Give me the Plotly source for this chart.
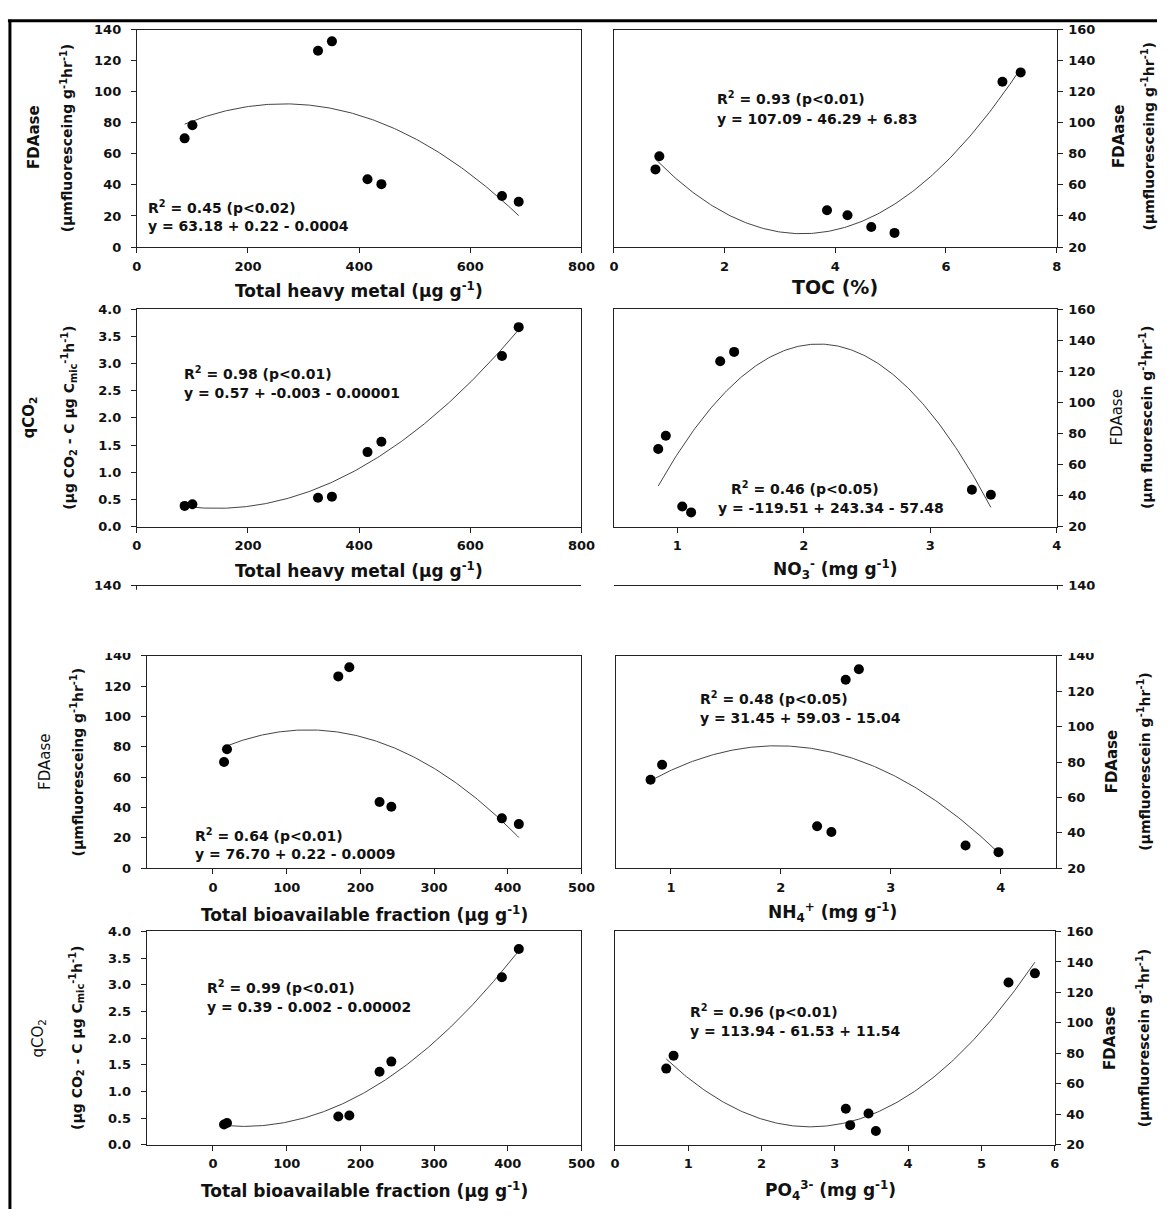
import numpy as np
import plotly.graph_objects as go

# ---------------- data ----------------
fdaase = [70.0, 78.5, 126.5, 132.5, 43.7, 40.5, 32.9, 29.1]
qco2 = [0.38, 0.41, 0.53, 0.55, 1.37, 1.56, 3.14, 3.67]
total_heavy_metal = [86, 100, 326, 351, 415, 440, 657, 687]
toc = [0.75, 0.82, 7.02, 7.35, 3.85, 4.22, 4.65, 5.07]
no3 = [0.85, 0.91, 1.34, 1.45, 3.33, 3.48, 1.04, 1.11]
bioavailable = [15, 19, 170, 185, 226, 242, 392, 415]
nh4 = [0.815, 0.92, 2.59, 2.71, 2.33, 2.46, 3.68, 3.98]
po4 = [0.70, 0.80, 5.37, 5.73, 3.15, 3.46, 3.21, 3.56]

r2_labels = ["R<sup>2</sup> = 0.45 (p<0.02)", "R<sup>2</sup> = 0.93 (p<0.01)",
             "R<sup>2</sup> = 0.98 (p<0.01)", "R<sup>2</sup> = 0.46 (p<0.05)",
             "R<sup>2</sup> = 0.64 (p<0.01)", "R<sup>2</sup> = 0.48 (p<0.05)",
             "R<sup>2</sup> = 0.99 (p<0.01)", "R<sup>2</sup> = 0.96 (p<0.01)"]
eq_labels = ["y = 63.18 + 0.22 - 0.0004", "y = 107.09 - 46.29 + 6.83",
             "y = 0.57 + -0.003 - 0.00001", "y = -119.51 + 243.34 - 57.48",
             "y = 76.70 + 0.22 - 0.0009", "y = 31.45 + 59.03 - 15.04",
             "y = 0.39 - 0.002 - 0.00002", "y = 113.94 - 61.53 + 11.54"]

FDA_T = "(µmfluoresceing g<sup>-1</sup>hr<sup>-1</sup>)"
FDA_T2 = "(µmfluorescein g<sup>-1</sup>hr<sup>-1</sup>)"
QCO_T = "(µg CO<sub>2</sub> - C µg C<sub>mic</sub><sup>-1</sup>h<sup>-1</sup>)"
THM_T = "Total heavy metal (µg g<sup>-1</sup>)"
BIO_T = "Total bioavailable fraction (µg g<sup>-1</sup>)"

W, H = 1171, 1217
def fx(p): return p / W
def fy(p): return 1 - p / H

FONT = "DejaVu Sans, Verdana, sans-serif"
TXT = "#111"

panels = [
    dict(x=total_heavy_metal, y=fdaase, box=(134, 586, 23, 243), xr=[0, 800], xt=[0, 200, 400, 600, 800],
         yr=[0, 140], yt=list(range(0, 141, 20)), side="left", fmt=None,
         r2=(143, 202), eq=(143, 222), xtitle=(THM_T, 360, 287, 17),
         ytitle=("FDAase", FDA_T, 30, 63, 132, True)),
    dict(x=toc, y=fdaase, box=(619, 1069, 23, 243), xr=[0, 8], xt=[0, 2, 4, 6, 8],
         yr=[20, 160], yt=list(range(20, 161, 20)), side="right", fmt=None,
         r2=(722, 92), eq=(722, 113), xtitle=("TOC (%)", 844, 284, 19),
         ytitle=("FDAase", FDA_T, 1133, 1162, 131, True)),
    dict(x=total_heavy_metal, y=qco2, box=(134, 586, 306, 526), xr=[0, 800], xt=[0, 200, 400, 600, 800],
         yr=[0, 4], yt=[0, 0.5, 1, 1.5, 2, 2.5, 3, 3.5, 4], side="left", fmt=".1f",
         r2=(180, 371), eq=(180, 391), xtitle=(THM_T, 360, 570, 17),
         ytitle=("qCO<sub>2</sub>", QCO_T, 25, 65, 416, True)),
    dict(x=no3, y=fdaase, box=(619, 1069, 306, 526), xr=[0.5, 4], xt=[1, 2, 3, 4],
         yr=[20, 160], yt=list(range(20, 161, 20)), side="right", fmt=None,
         r2=(736, 487), eq=(723, 507), xtitle=("NO<sub>3</sub><sup>-</sup> (mg g<sup>-1</sup>)", 844, 570, 17),
         ytitle=("FDAase", "(µm fluorescein g<sup>-1</sup>hr<sup>-1</sup>)", 1130, 1160, 416, False)),
    dict(x=bioavailable, y=fdaase, box=(144, 586, 657, 872), xr=[-90, 500], xt=[0, 100, 200, 300, 400, 500],
         yr=[0, 140], yt=list(range(0, 141, 20)), side="left", fmt=None,
         r2=(191, 838), eq=(191, 858), xtitle=(BIO_T, 365, 918, 17),
         ytitle=("FDAase", FDA_T, 40, 73, 764, False)),
    dict(x=nh4, y=fdaase, box=(621, 1068, 657, 872), xr=[0.5, 4.5], xt=[1, 2, 3, 4],
         yr=[20, 140], yt=list(range(20, 141, 20)), side="right", fmt=None,
         r2=(704, 700), eq=(704, 720), xtitle=("NH<sub>4</sub><sup>+</sup> (mg g<sup>-1</sup>)", 841, 917, 17),
         ytitle=("FDAase", FDA_T2, 1125, 1157, 764, True)),
    dict(x=bioavailable, y=qco2, box=(144, 586, 936, 1152), xr=[-90, 500], xt=[0, 100, 200, 300, 400, 500],
         yr=[0, 4], yt=[0, 0.5, 1, 1.5, 2, 2.5, 3, 3.5, 4], side="left", fmt=".1f",
         r2=(203, 992), eq=(203, 1012), xtitle=(BIO_T, 365, 1198, 17),
         ytitle=("qCO<sub>2</sub>", QCO_T, 34, 73, 1044, False)),
    dict(x=po4, y=fdaase, box=(620, 1067, 936, 1152), xr=[0, 6], xt=[0, 1, 2, 3, 4, 5, 6],
         yr=[20, 160], yt=list(range(20, 161, 20)), side="right", fmt=None,
         r2=(694, 1017), eq=(694, 1037), xtitle=("PO<sub>4</sub><sup>3-</sup> (mg g<sup>-1</sup>)", 839, 1198, 17),
         ytitle=("FDAase", FDA_T2, 1123, 1157, 1044, True)),
]

fig = go.Figure()
annotations = []
tickfont = dict(family=FONT, size=13, color=TXT, weight="bold")
axis_common = dict(showgrid=False, zeroline=False, showline=True, linecolor="#222", linewidth=1,
                   mirror=True, ticks="outside", ticklen=5, tickwidth=1, tickcolor="#222",
                   tickfont=tickfont)

def B(t, bold=True):
    return "<b>" + t + "</b>" if bold else t

for i, p in enumerate(panels, start=1):
    sfx = "" if i == 1 else str(i)
    xa, ya = "x" + sfx, "y" + sfx
    x0, x1, y0, y1 = p["box"]
    fig.update_layout(**{
        "xaxis" + sfx: dict(domain=[fx(x0), fx(x1)], anchor=ya, range=p["xr"], tickvals=p["xt"],
                            ticklabelstandoff=2, **axis_common),
        "yaxis" + sfx: dict(domain=[fy(y1), fy(y0)], anchor=xa, range=p["yr"], tickvals=p["yt"],
                            side=p["side"], tickformat=p["fmt"],
                            ticklabelstandoff=7 if p["side"] == "left" else 3, **axis_common),
    })
    xs = np.asarray(p["x"], float)
    ys = np.asarray(p["y"], float)
    coef = np.polyfit(xs, ys, 2)
    xl = np.linspace(xs.min(), xs.max(), 200)
    fig.add_trace(go.Scatter(x=xl, y=np.polyval(coef, xl), mode="lines",
                             line=dict(color="#444", width=1), xaxis=xa, yaxis=ya,
                             showlegend=False, hoverinfo="skip"))
    fig.add_trace(go.Scatter(x=xs, y=ys, mode="markers",
                             marker=dict(color="black", size=10, line=dict(width=0)),
                             xaxis=xa, yaxis=ya, showlegend=False))
    for txt, (px_, py_) in ((r2_labels[i - 1], p["r2"]), (eq_labels[i - 1], p["eq"])):
        annotations.append(dict(text=B(txt), x=fx(px_), y=fy(py_), xref="paper", yref="paper",
                                xanchor="left", yanchor="middle", showarrow=False,
                                font=dict(family=FONT, size=14, color=TXT)))
    t, cx, cy, fs = p["xtitle"]
    annotations.append(dict(text=B(t), x=fx(cx), y=fy(cy), xref="paper", yref="paper",
                            xanchor="center", yanchor="middle", showarrow=False,
                            font=dict(family=FONT, size=fs, color=TXT)))
    l1, l2, lx1, lx2, ly, bold = p["ytitle"]
    annotations.append(dict(text=B(l1, bold), x=fx(lx1), y=fy(ly), xref="paper", yref="paper",
                            xanchor="center", yanchor="middle", showarrow=False, textangle=-90,
                            font=dict(family=FONT, size=15, color=TXT)))
    annotations.append(dict(text=B(l2), x=fx(lx2), y=fy(ly), xref="paper", yref="paper",
                            xanchor="center", yanchor="middle", showarrow=False, textangle=-90,
                            font=dict(family=FONT, size=14, color=TXT)))

# stitched stub axes between row 2 and row 3 (partial copy of the next row's top edge)
stub_common = dict(showgrid=False, zeroline=False, showline=True, linecolor="#222", linewidth=1)
for j, (x0, x1, side) in enumerate([(134, 586, "left"), (619, 1069, "right")], start=9):
    sfx = str(j)
    fig.update_layout(**{
        "xaxis" + sfx: dict(domain=[fx(x0), fx(x1)], anchor="y" + sfx, range=[0, 1], side="top",
                            showticklabels=False, ticks="", **stub_common),
        "yaxis" + sfx: dict(domain=[fy(640), fy(586)], anchor="x" + sfx, range=[0, 140], tickvals=[140],
                            side=side, ticks="outside", ticklen=5, tickcolor="#222",
                            ticklabelstandoff=7 if side == "left" else 3,
                            tickfont=tickfont, **stub_common),
    })
    fig.add_trace(go.Scatter(x=[None], y=[None], xaxis="x" + sfx, yaxis="y" + sfx, showlegend=False))

shapes = [
    dict(type="rect", xref="paper", yref="paper", x0=fx(8), x1=1, y0=fy(654), y1=fy(590),
         fillcolor="white", line=dict(width=0), layer="above"),
    dict(type="line", xref="paper", yref="paper", x0=fx(3), x1=1, y0=fy(14), y1=fy(14),
         line=dict(color="black", width=3), layer="above"),
    dict(type="line", xref="paper", yref="paper", x0=fx(5), x1=fx(5), y0=0, y1=fy(13),
         line=dict(color="black", width=3), layer="above"),
]

fig.update_layout(width=W, height=H, autosize=False, margin=dict(l=0, r=0, t=0, b=0),
                  paper_bgcolor="white", plot_bgcolor="white", showlegend=False,
                  annotations=annotations, shapes=shapes)

fig.write_html("out.html")
